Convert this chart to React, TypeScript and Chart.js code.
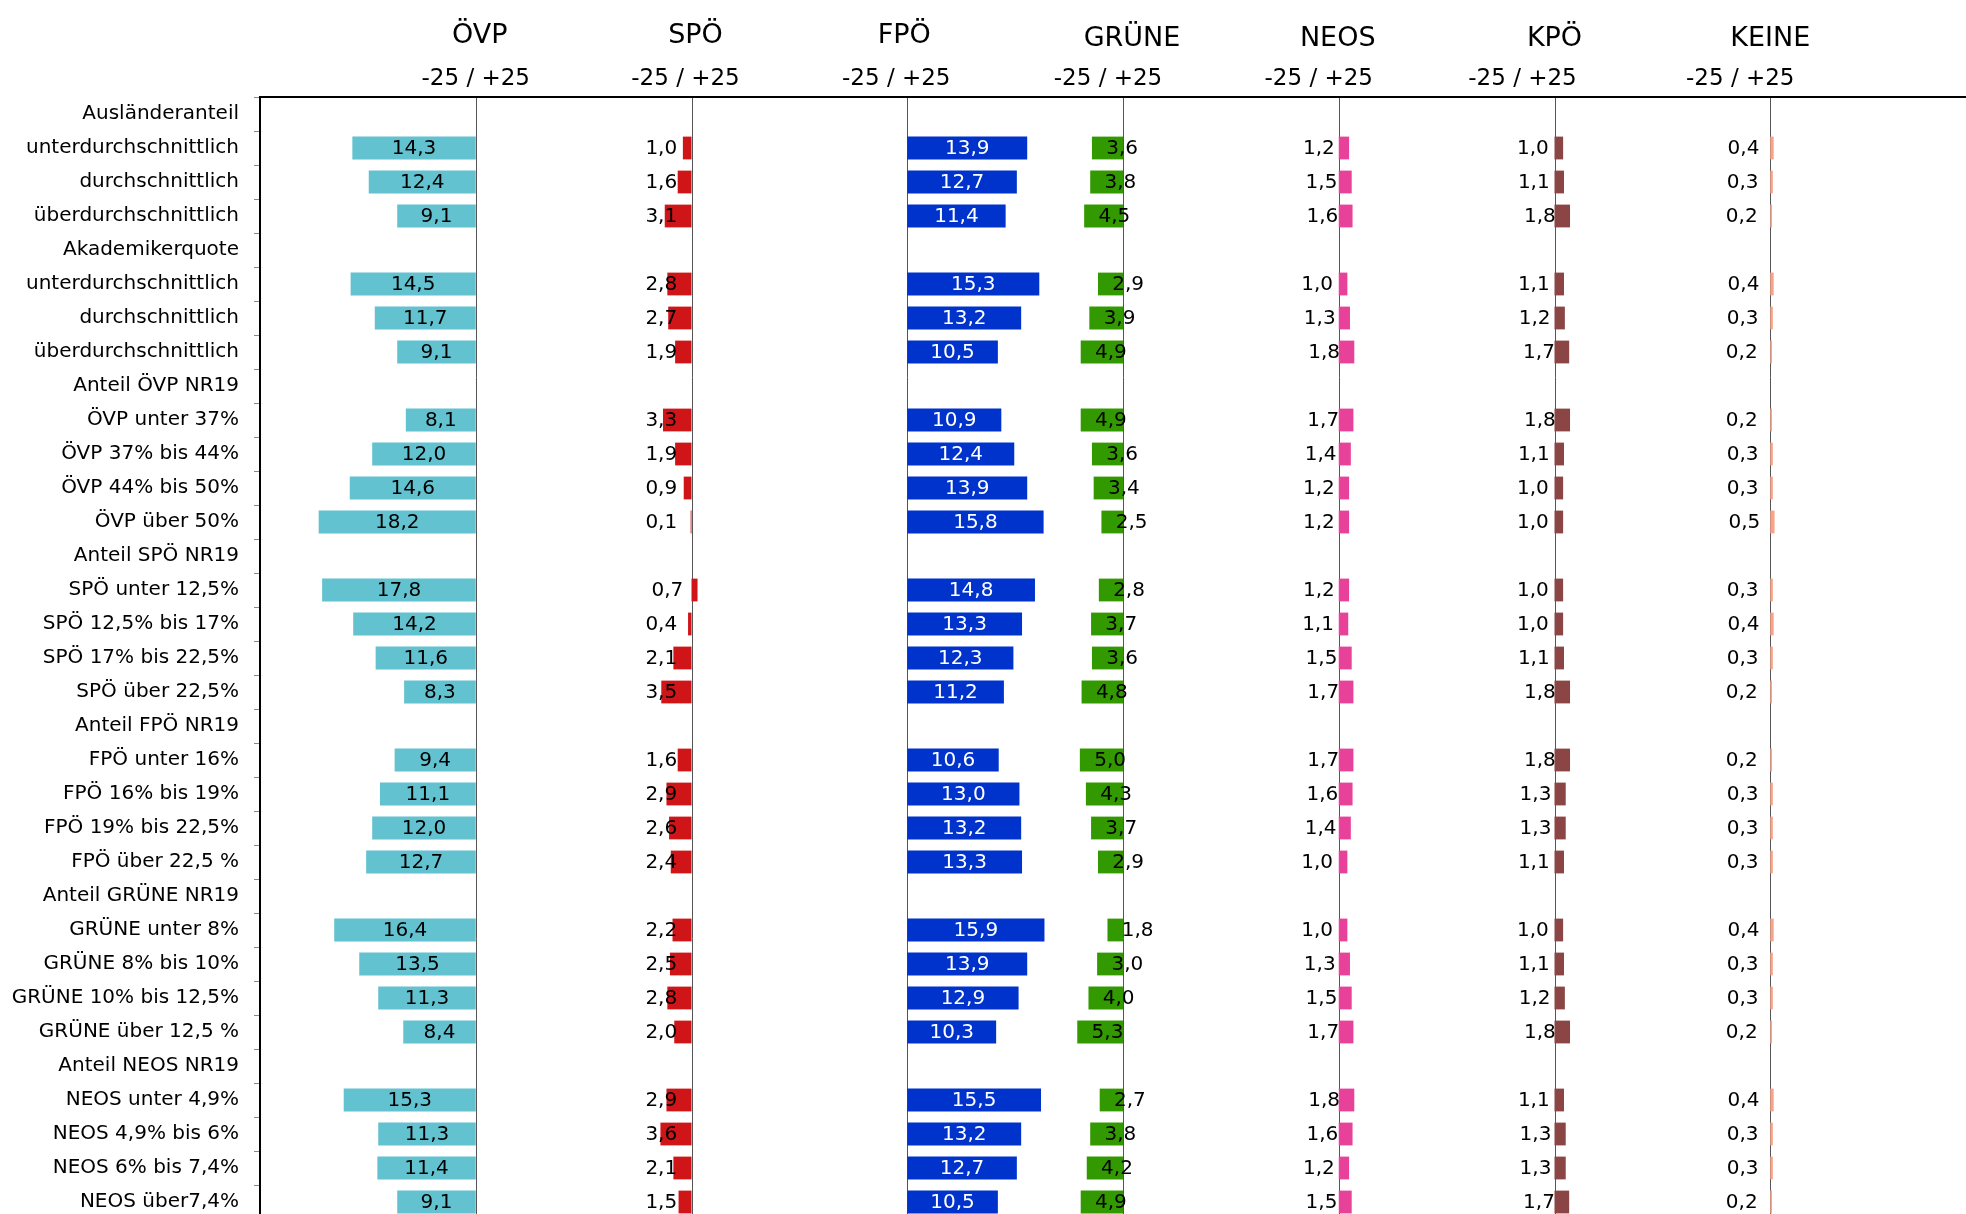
import React, { useEffect, useRef } from "react";
import { Chart, registerables } from "chart.js";

Chart.register(...registerables);

// ---------- DATA ----------
const categories = [
  "Ausländeranteil",
  "unterdurchschnittlich",
  "durchschnittlich",
  "überdurchschnittlich",
  "Akademikerquote",
  "unterdurchschnittlich",
  "durchschnittlich",
  "überdurchschnittlich",
  "Anteil ÖVP NR19",
  "ÖVP unter 37%",
  "ÖVP 37% bis 44%",
  "ÖVP 44% bis 50%",
  "ÖVP über 50%",
  "Anteil SPÖ NR19",
  "SPÖ unter 12,5%",
  "SPÖ 12,5% bis 17%",
  "SPÖ 17% bis 22,5%",
  "SPÖ über 22,5%",
  "Anteil FPÖ NR19",
  "FPÖ unter 16%",
  "FPÖ 16% bis 19%",
  "FPÖ 19% bis 22,5%",
  "FPÖ über 22,5 %",
  "Anteil GRÜNE NR19",
  "GRÜNE unter 8%",
  "GRÜNE 8% bis 10%",
  "GRÜNE 10% bis 12,5%",
  "GRÜNE über 12,5 %",
  "Anteil NEOS NR19",
  "NEOS unter 4,9%",
  "NEOS 4,9% bis 6%",
  "NEOS 6% bis 7,4%",
  "NEOS über7,4%",
];

const parties = ["ÖVP", "SPÖ", "FPÖ", "GRÜNE", "NEOS", "KPÖ", "KEINE"];
const rangeLabel = "-25 / +25";
// each party panel's zero line on the shared axis (panels are 25 units apart)
const partyOffsets = [25, 50, 75, 100, 125, 150, 175];

const oevp = [null, -14.3, -12.4, -9.1, null, -14.5, -11.7, -9.1, null, -8.1, -12.0, -14.6, -18.2, null, -17.8, -14.2, -11.6, -8.3, null, -9.4, -11.1, -12.0, -12.7, null, -16.4, -13.5, -11.3, -8.4, null, -15.3, -11.3, -11.4, -9.1];
const spoe = [null, -1.0, -1.6, -3.1, null, -2.8, -2.7, -1.9, null, -3.3, -1.9, -0.9, -0.1, null, 0.7, -0.4, -2.1, -3.5, null, -1.6, -2.9, -2.6, -2.4, null, -2.2, -2.5, -2.8, -2.0, null, -2.9, -3.6, -2.1, -1.5];
const fpoe = [null, 13.9, 12.7, 11.4, null, 15.3, 13.2, 10.5, null, 10.9, 12.4, 13.9, 15.8, null, 14.8, 13.3, 12.3, 11.2, null, 10.6, 13.0, 13.2, 13.3, null, 15.9, 13.9, 12.9, 10.3, null, 15.5, 13.2, 12.7, 10.5];
const gruene = [null, -3.6, -3.8, -4.5, null, -2.9, -3.9, -4.9, null, -4.9, -3.6, -3.4, -2.5, null, -2.8, -3.7, -3.6, -4.8, null, -5.0, -4.3, -3.7, -2.9, null, -1.8, -3.0, -4.0, -5.3, null, -2.7, -3.8, -4.2, -4.9];
const neos = [null, 1.2, 1.5, 1.6, null, 1.0, 1.3, 1.8, null, 1.7, 1.4, 1.2, 1.2, null, 1.2, 1.1, 1.5, 1.7, null, 1.7, 1.6, 1.4, 1.0, null, 1.0, 1.3, 1.5, 1.7, null, 1.8, 1.6, 1.2, 1.5];
const kpoe = [null, 1.0, 1.1, 1.8, null, 1.1, 1.2, 1.7, null, 1.8, 1.1, 1.0, 1.0, null, 1.0, 1.0, 1.1, 1.8, null, 1.8, 1.3, 1.3, 1.1, null, 1.0, 1.1, 1.2, 1.8, null, 1.1, 1.3, 1.3, 1.7];
const keine = [null, 0.4, 0.3, 0.2, null, 0.4, 0.3, 0.2, null, 0.2, 0.3, 0.3, 0.5, null, 0.3, 0.4, 0.3, 0.2, null, 0.2, 0.3, 0.3, 0.3, null, 0.4, 0.3, 0.3, 0.2, null, 0.4, 0.3, 0.3, 0.2];

const partyValues = [oevp, spoe, fpoe, gruene, neos, kpoe, keine];

// ---------- STYLE ----------
const barColors = ["#63C2D0", "#D01519", "#0033CC", "#339900", "#E8419A", "#8B4545", "#F8A48A"];
const labelColors = ["#000", "#000", "#FFF", "#000", "#000", "#000", "#000"];
// label placement: centre of bar, or near an end of the bar
const labelModes = ["center", "high", "center", "low", "high", "high", "high"];
const LABEL_SHIFT = 3.5; // axis units
const headerNudge = [4, 4, -3, 9, -1, 0, 0];
const headerBaseline = [43, 43, 43, 46, 46, 46, 46];
const subNudge = [0, -6, -11, -15, -20, -32, -30];
const FONT = '"DejaVu Sans", "Noto Sans", sans-serif';

const fmt = (v: number) => Math.abs(v).toFixed(1).replace(".", ",");

const decorPlugin = {
  id: "decor",
  beforeDatasetsDraw(chart: any) {
    const { ctx, chartArea } = chart;
    const xs = chart.scales.x;
    ctx.save();
    ctx.strokeStyle = "#555";
    ctx.lineWidth = 1;
    partyOffsets.forEach((o) => {
      const x = Math.round(xs.getPixelForValue(o)) + 0.5;
      ctx.beginPath();
      ctx.moveTo(x, chartArea.top);
      ctx.lineTo(x, chartArea.bottom);
      ctx.stroke();
    });
    ctx.restore();
  },
  afterDatasetsDraw(chart: any) {
    const { ctx } = chart;
    const xs = chart.scales.x;
    const ys = chart.scales.y;
    ctx.save();
    ctx.font = `20px ${FONT}`;
    ctx.textAlign = "center";
    ctx.textBaseline = "middle";
    partyValues.forEach((vals, di) => {
      const mode = labelModes[di];
      vals.forEach((v, j) => {
        if (v === null || v === undefined) return;
        const a = partyOffsets[di];
        const b = a + v;
        const lo = Math.min(a, b);
        const hi = Math.max(a, b);
        const xv = mode === "center" ? (lo + hi) / 2 : mode === "high" ? hi - LABEL_SHIFT : lo + LABEL_SHIFT;
        ctx.fillStyle = labelColors[di];
        ctx.fillText(fmt(v), xs.getPixelForValue(xv), ys.getPixelForValue(j) + 1);
      });
    });
    ctx.restore();
  },
  afterDraw(chart: any) {
    const { ctx, chartArea } = chart;
    const xs = chart.scales.x;
    ctx.save();
    // top rule
    ctx.strokeStyle = "#000";
    ctx.lineWidth = 2;
    ctx.beginPath();
    ctx.moveTo(chartArea.left - 1, chartArea.top);
    ctx.lineTo(chart.width, chartArea.top);
    ctx.stroke();
    // headers
    ctx.fillStyle = "#000";
    ctx.textAlign = "center";
    ctx.textBaseline = "alphabetic";
    parties.forEach((p, i) => {
      const x = xs.getPixelForValue(partyOffsets[i]);
      ctx.font = `27px ${FONT}`;
      ctx.fillText(p, x + headerNudge[i], headerBaseline[i]);
      ctx.font = `23px ${FONT}`;
      ctx.fillText(rangeLabel, x + subNudge[i], 85);
    });
    ctx.restore();
  },
};

export default function App() {
  const ref = useRef<HTMLCanvasElement | null>(null);
  useEffect(() => {
    if (!ref.current) return;
    Chart.defaults.font.family = FONT;
    const datasets = partyValues.map((vals, i) => ({
      label: parties[i],
      data: vals.map((v) => (v === null ? null : [partyOffsets[i], partyOffsets[i] + v])),
      backgroundColor: barColors[i],
      borderWidth: 0,
      grouped: false,
      barPercentage: 0.67,
      categoryPercentage: 1,
    }));
    const chart = new Chart(ref.current, {
      type: "bar",
      data: { labels: categories, datasets: datasets as any },
      options: {
        indexAxis: "y",
        responsive: false,
        animation: false,
        devicePixelRatio: 1,
        layout: { padding: { top: 97, bottom: 0, left: 0, right: 4 } },
        plugins: { legend: { display: false }, tooltip: { enabled: false } },
        scales: {
          x: { type: "linear", min: 0, max: 200, display: false },
          y: {
            type: "category",
            grid: { display: true, drawOnChartArea: false, drawTicks: true, tickLength: 6, color: "#888", offset: true },
            border: { display: true, color: "#000", width: 2 },
            ticks: { color: "#000", font: { size: 20, family: FONT }, padding: 15, autoSkip: false },
            afterFit: (scale: any) => {
              scale.width = 260;
            },
          },
        },
      } as any,
      plugins: [decorPlugin],
    });
    return () => chart.destroy();
  }, []);
  return (
    <div style={{ position: "fixed", left: 0, top: 0, width: 1966, height: 1214, overflow: "hidden", background: "#fff" }}>
      <canvas ref={ref} width={1990} height={1246} style={{ width: 1990, height: 1246, display: "block" }} />
    </div>
  );
}
